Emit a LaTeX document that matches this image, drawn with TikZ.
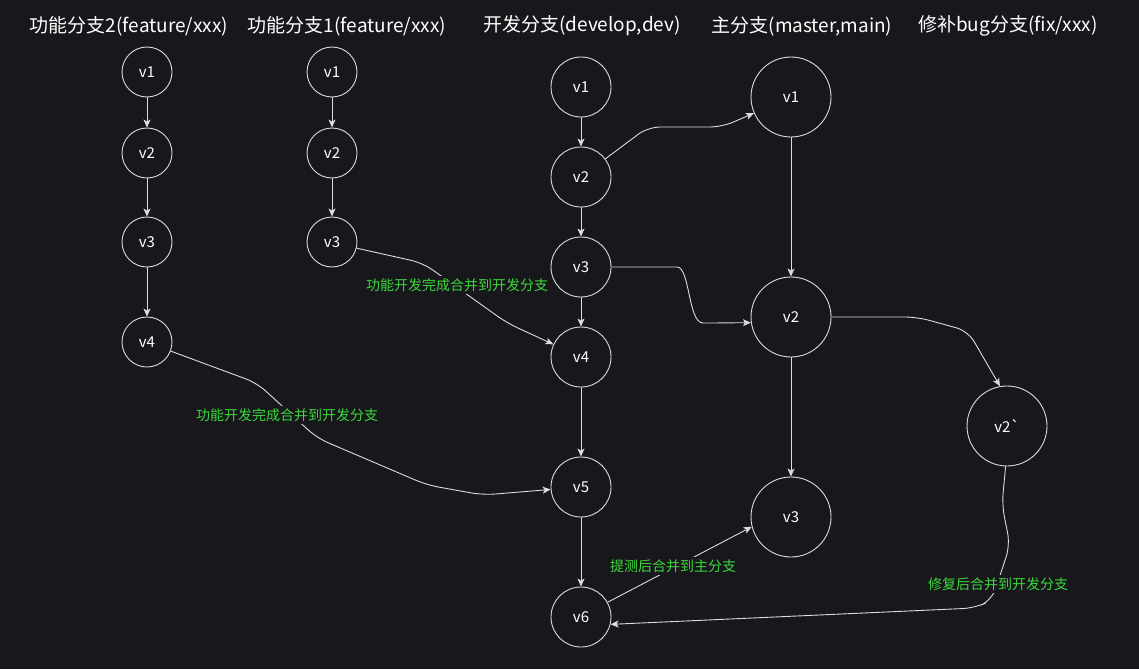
\documentclass[tikz,border=0pt]{standalone}
\usepackage{fontspec}
\setmainfont{Noto Sans CJK SC}
\usetikzlibrary{arrows.meta}
\definecolor{bgdark}{HTML}{18171C}
\definecolor{linegray}{HTML}{DCDCDC}
\definecolor{notegreen}{HTML}{3CD83C}
\begin{document}
\begin{tikzpicture}[x=1pt, y=-1pt,
        commit/.style={draw=linegray, circle, minimum size=50pt, inner sep=0pt, line width=0.9pt, text=white, font=\fontsize{15}{15}\selectfont},
        midcommit/.style={commit, minimum size=60pt},
        bigcommit/.style={commit, minimum size=80pt},
        title/.style={text=white, font=\fontsize{19}{19}\selectfont},
        note/.style={text=notegreen, fill=bgdark, inner sep=2pt, font=\fontsize{14}{14}\selectfont},
        flow/.style={draw=linegray, line width=0.9pt, rounded corners=12pt, -{Stealth[length=8pt, width=7pt, inset=2pt]}}]
        \fill[bgdark] (0, 0) rectangle (1139, 669);
        \node[title] (tfeat2) at (129, 26) {功能分支2(feature/xxx)};
        \node[title] (tfeat1) at (347, 26) {功能分支1(feature/xxx)};
        \node[title] (tdev) at (582, 26) {开发分支(develop,dev)};
        \node[title] (tmain) at (802, 26) {主分支(master,main)};
        \node[title] (tfix) at (1008, 26) {修补bug分支(fix/xxx)};
        \node[commit] (f2v1) at (147, 72) {v1};
        \node[commit] (f2v2) at (147, 153) {v2};
        \node[commit] (f2v3) at (147, 242) {v3};
        \node[commit] (f2v4) at (147, 342) {v4};
        \node[commit] (f1v1) at (332, 72) {v1};
        \node[commit] (f1v2) at (332, 153) {v2};
        \node[commit] (f1v3) at (332, 242) {v3};
        \node[midcommit] (dv1) at (581, 87) {v1};
        \node[midcommit] (dv2) at (581, 177) {v2};
        \node[midcommit] (dv3) at (581, 267) {v3};
        \node[midcommit] (dv4) at (581, 357) {v4};
        \node[midcommit] (dv5) at (581, 487) {v5};
        \node[midcommit] (dv6) at (581, 617) {v6};
        \node[bigcommit] (mv1) at (791, 97) {v1};
        \node[bigcommit] (mv2) at (791, 317) {v2};
        \node[bigcommit] (mv3) at (791, 517) {v3};
        \node[bigcommit] (fv2) at (1007, 426) {v2\textasciigrave};
        \draw[flow] (f2v1) -- (f2v2);
        \draw[flow] (f2v2) -- (f2v3);
        \draw[flow] (f2v3) -- (f2v4);
        \draw[flow] (f1v1) -- (f1v2);
        \draw[flow] (f1v2) -- (f1v3);
        \draw[flow] (dv1) -- (dv2);
        \draw[flow] (dv2) -- (dv3);
        \draw[flow] (dv3) -- (dv4);
        \draw[flow] (dv4) -- (dv5);
        \draw[flow] (dv5) -- (dv6);
        \draw[flow] (mv1) -- (mv2);
        \draw[flow] (mv2) -- (mv3);
        \draw[flow] (dv2) -- (648, 127) -- (722, 127) -- (mv1);
        \draw[flow] (dv3.east) -- (665, 267) .. controls (690, 267) and (688, 323) .. (715, 323) -- (mv2.188);
        \draw[flow] (f1v3.-14) -- (423, 263) -- (507, 323) -- (dv4);
        \draw[flow] (f2v4.-21) -- (257, 383) -- (317, 438) -- (427, 485) -- (483, 495) -- (dv5);
        \draw[flow] (mv2.east) -- (917, 317) -- (968, 331) -- (fv2.100);
        \draw[flow] (fv2.-92) -- (1002, 505) -- (1010, 545) -- (992, 600) -- (975, 608) -- (dv6.-14);
        \draw[flow] (dv6.29) -- (mv3.194);
        \node[note] (mergef1) at (457, 285) {功能开发完成合并到开发分支};
        \node[note] (mergef2) at (287, 415) {功能开发完成合并到开发分支};
        \node[note] (mergemain) at (673, 566) {提测后合并到主分支};
        \node[note] (mergefix) at (998, 584) {修复后合并到开发分支};
    \end{tikzpicture}
\end{document}
